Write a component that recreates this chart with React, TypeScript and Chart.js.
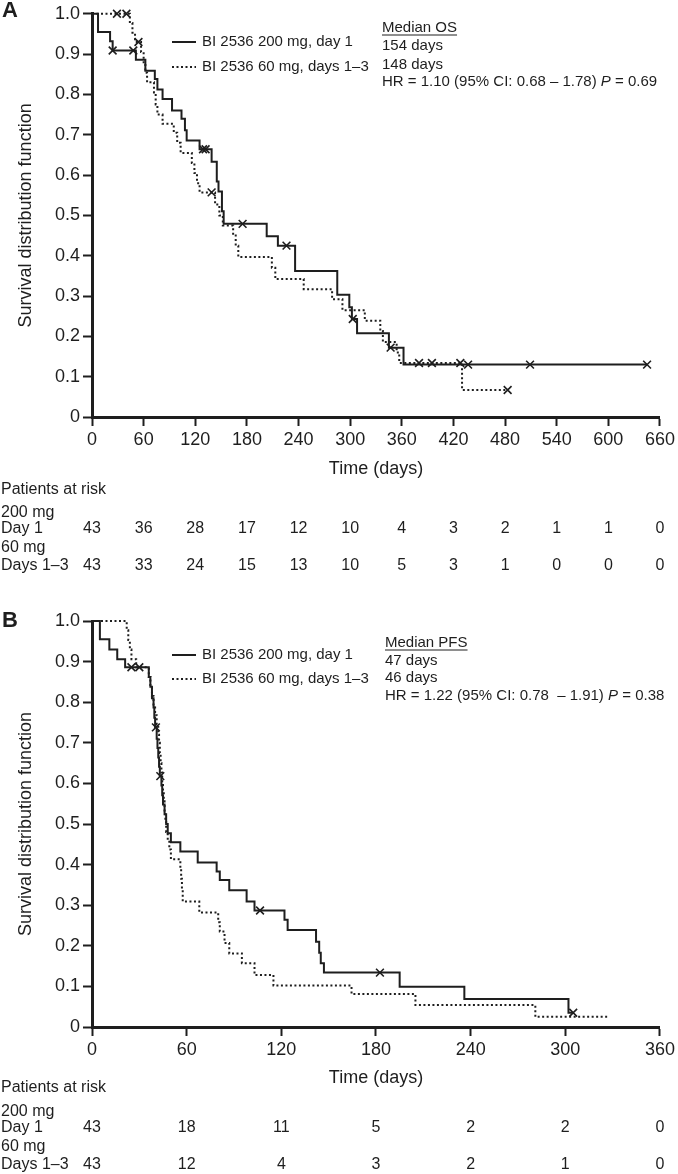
import React, { useEffect, useRef } from "react";
import { Chart, registerables } from "chart.js";

Chart.register(...registerables);

const INK = "#1e1e1e";
const FF = '"Liberation Sans", Arial, Helvetica, sans-serif';

// ---------- Panel A: overall survival ----------
const osTicks = [0, 60, 120, 180, 240, 300, 360, 420, 480, 540, 600, 660];
const yTicks = [0, 0.1, 0.2, 0.3, 0.4, 0.5, 0.6, 0.7, 0.8, 0.9, 1.0];
const osRisk200 = [43, 36, 28, 17, 12, 10, 4, 3, 2, 1, 1, 0];
const osRisk60 = [43, 33, 24, 15, 13, 10, 5, 3, 1, 0, 0, 0];

const os200Days = [0, 7, 21, 24, 51, 62, 73, 76, 82, 93, 104, 108, 110, 125, 139, 145, 147, 151, 153, 203, 216, 236, 285, 299, 302, 308, 345, 362, 645];
const os200Surv = [1.0, 0.955, 0.932, 0.909, 0.886, 0.859, 0.838, 0.812, 0.789, 0.76, 0.74, 0.711, 0.686, 0.664, 0.633, 0.584, 0.559, 0.51, 0.479, 0.448, 0.425, 0.362, 0.303, 0.272, 0.243, 0.208, 0.172, 0.13, 0.13];
const os200CensorDays = [24, 48, 129, 132, 175, 226, 303, 347, 437, 509, 645];
const os200CensorSurv = [0.909, 0.909, 0.664, 0.664, 0.479, 0.425, 0.243, 0.172, 0.13, 0.13, 0.13];

const os60Days = [0, 44, 47, 50, 57, 60, 62, 64, 72, 74, 76, 82, 95, 99, 103, 116, 119, 122, 125, 143, 148, 152, 164, 167, 170, 209, 213, 246, 279, 291, 317, 335, 338, 354, 357, 430, 483];
const os60Surv = [1.0, 0.977, 0.953, 0.93, 0.905, 0.88, 0.854, 0.83, 0.805, 0.775, 0.75, 0.727, 0.705, 0.68, 0.655, 0.63, 0.605, 0.58, 0.557, 0.527, 0.5, 0.475, 0.45, 0.425, 0.397, 0.37, 0.342, 0.317, 0.292, 0.265, 0.239, 0.213, 0.186, 0.16, 0.134, 0.067, 0.067];
const os60CensorDays = [29, 40, 54, 139, 380, 395, 428, 483];
const os60CensorSurv = [1.0, 1.0, 0.93, 0.557, 0.134, 0.134, 0.134, 0.067];

// ---------- Panel B: progression-free survival ----------
const pfsTicks = [0, 60, 120, 180, 240, 300, 360];
const pfsRisk200 = [43, 18, 11, 5, 2, 2, 0];
const pfsRisk60 = [43, 12, 4, 3, 2, 1, 0];

const pfs200Days = [0, 5, 11, 16, 21, 36, 37, 38, 39, 39.5, 40, 41, 41.5, 42, 42.5, 43, 44, 44.5, 45, 46, 47, 48, 50, 56, 67, 79, 81, 87, 98, 103, 122, 124, 142, 144, 145, 147, 195, 236, 302, 305];
const pfs200Surv = [1.0, 0.955, 0.93, 0.906, 0.886, 0.862, 0.838, 0.81, 0.787, 0.762, 0.738, 0.71, 0.687, 0.664, 0.641, 0.618, 0.595, 0.571, 0.548, 0.524, 0.5, 0.477, 0.455, 0.432, 0.405, 0.383, 0.362, 0.337, 0.309, 0.287, 0.264, 0.239, 0.21, 0.183, 0.157, 0.134, 0.099, 0.069, 0.035, 0.035];
const pfs200CensorDays = [25, 30, 40.5, 43.3, 106.5, 182.5, 305];
const pfs200CensorSurv = [0.886, 0.886, 0.738, 0.618, 0.287, 0.134, 0.035];

const pfs60Days = [0, 22, 23, 24, 25, 28, 36, 37, 38, 39, 40, 41, 42, 42.5, 43, 43.5, 44, 44.5, 45, 45.5, 46, 46.5, 47, 48, 49, 50, 56, 56.5, 57, 57.5, 68, 80, 81, 84, 87, 95, 103, 115, 164.5, 205, 281, 327];
const pfs60Surv = [1.0, 0.977, 0.953, 0.93, 0.906, 0.886, 0.862, 0.838, 0.815, 0.79, 0.768, 0.745, 0.72, 0.7, 0.675, 0.65, 0.627, 0.6, 0.58, 0.556, 0.53, 0.505, 0.48, 0.46, 0.437, 0.413, 0.39, 0.365, 0.34, 0.309, 0.282, 0.258, 0.235, 0.207, 0.181, 0.157, 0.128, 0.102, 0.081, 0.054, 0.025, 0.025];
const pfs60CensorDays: number[] = [];
const pfs60CensorSurv: number[] = [];

// ---------- texts ----------
const legendLabels = ["BI 2536 200 mg, day 1", "BI 2536 60 mg, days 1\u20133"];
const riskLabels = ["Patients at risk", "200 mg", "Day 1", "60 mg", "Days 1\u20133"];

type Panel = {
  letter: string;
  ticks: number[];
  risk200: number[];
  risk60: number[];
  d200: number[]; s200: number[]; c200d: number[]; c200s: number[];
  d60: number[]; s60: number[]; c60d: number[]; c60s: number[];
  medTitle: string; med200: string; med60: string; hr: string; p: string;
  // layout
  top: number; xAxisH: number; xTitlePad: number;
  letterY: number; legendY: number[]; medX: number; medY: number[]; riskY: number[];
};

const panels: Panel[] = [
  {
    letter: "A", ticks: osTicks, risk200: osRisk200, risk60: osRisk60,
    d200: os200Days, s200: os200Surv, c200d: os200CensorDays, c200s: os200CensorSurv,
    d60: os60Days, s60: os60Surv, c60d: os60CensorDays, c60s: os60CensorSurv,
    medTitle: "Median OS", med200: "154 days", med60: "148 days",
    hr: "HR = 1.10 (95% CI: 0.68 \u2013 1.78) ", p: "0.69",
    top: 11, xAxisH: 170, xTitlePad: 107,
    letterY: 11, legendY: [42, 67], medX: 382, medY: [28, 46, 65, 82], riskY: [490, 513, 529, 548, 566],
  },
  {
    letter: "B", ticks: pfsTicks, risk200: pfsRisk200, risk60: pfsRisk60,
    d200: pfs200Days, s200: pfs200Surv, c200d: pfs200CensorDays, c200s: pfs200CensorSurv,
    d60: pfs60Days, s60: pfs60Surv, c60d: pfs60CensorDays, c60s: pfs60CensorSurv,
    medTitle: "Median PFS", med200: "47 days", med60: "46 days",
    hr: "HR = 1.22 (95% CI: 0.78  \u2013 1.91) ", p: "0.38",
    top: 34, xAxisH: 147, xTitlePad: 85,
    letterY: 34, legendY: [68, 92], medX: 385, medY: [56, 74, 91, 109], riskY: [501, 525, 541, 560, 578],
  },
];

const pts = (d: number[], s: number[]) => d.map((x, i) => ({ x, y: s[i] }));

function annotPlugin(p: Panel) {
  return {
    id: "annot" + p.letter,
    afterDraw(chart: any) {
      const ctx = chart.ctx as CanvasRenderingContext2D;
      const xs = chart.scales.x;
      ctx.save();
      ctx.fillStyle = INK;
      ctx.strokeStyle = INK;
      ctx.textBaseline = "middle";
      ctx.textAlign = "left";
      // panel letter
      ctx.font = `bold 22px ${FF}`;
      ctx.fillText(p.letter, 2, p.letterY);
      // legend
      ctx.font = `15px ${FF}`;
      legendLabels.forEach((t, i) => {
        const y = p.legendY[i];
        ctx.lineWidth = 2;
        ctx.setLineDash(i === 0 ? [] : [2, 2.5]);
        ctx.beginPath();
        ctx.moveTo(172, y);
        ctx.lineTo(196, y);
        ctx.stroke();
        ctx.setLineDash([]);
        ctx.fillText(t, 202, y);
      });
      // median block
      const mx = p.medX;
      ctx.fillText(p.medTitle, mx, p.medY[0]);
      const w = ctx.measureText(p.medTitle).width;
      ctx.lineWidth = 1;
      ctx.beginPath();
      ctx.moveTo(mx, p.medY[0] + 7);
      ctx.lineTo(mx + w, p.medY[0] + 7);
      ctx.stroke();
      ctx.fillText(p.med200, mx, p.medY[1]);
      ctx.fillText(p.med60, mx, p.medY[2]);
      let hx = mx;
      ctx.fillText(p.hr, hx, p.medY[3]);
      hx += ctx.measureText(p.hr).width;
      ctx.font = `italic 15px ${FF}`;
      ctx.fillText("P", hx, p.medY[3]);
      hx += ctx.measureText("P").width;
      ctx.font = `15px ${FF}`;
      ctx.fillText(" = " + p.p, hx, p.medY[3]);
      // patients at risk table
      ctx.font = `16px ${FF}`;
      riskLabels.forEach((t, i) => ctx.fillText(t, 1, p.riskY[i]));
      ctx.textAlign = "center";
      p.ticks.forEach((t, i) => {
        const x = xs.getPixelForValue(t);
        ctx.fillText(String(p.risk200[i]), x, p.riskY[2]);
        ctx.fillText(String(p.risk60[i]), x, p.riskY[4]);
      });
      ctx.restore();
    },
  };
}

function KMChart({ p }: { p: Panel }) {
  const ref = useRef<HTMLCanvasElement>(null);
  useEffect(() => {
    if (!ref.current) return;
    const lineBase = { pointRadius: 0, fill: false, clip: false as any, borderColor: INK, borderWidth: 2, stepped: "before" as const, borderCapStyle: "butt" as const };
    const censorBase = { showLine: false, pointStyle: "crossRot" as const, pointRadius: 5.5, pointBorderWidth: 1.6, pointBorderColor: INK, borderColor: INK, clip: false as any };
    const chart = new Chart(ref.current, {
      type: "line",
      data: {
        datasets: [
          { ...lineBase, label: legendLabels[0], data: pts(p.d200, p.s200) },
          { ...lineBase, label: legendLabels[1], data: pts(p.d60, p.s60), borderDash: [2, 2.5] },
          { ...censorBase, label: "censored 200 mg", data: pts(p.c200d, p.c200s) },
          { ...censorBase, label: "censored 60 mg", data: pts(p.c60d, p.c60s) },
        ] as any,
      },
      options: {
        animation: false,
        responsive: false,
        events: [],
        layout: { padding: { top: p.top, right: 18, bottom: 0, left: 0 } },
        plugins: { legend: { display: false }, tooltip: { enabled: false }, title: { display: false } },
        scales: {
          x: {
            type: "linear",
            min: 0,
            max: p.ticks[p.ticks.length - 1],
            afterBuildTicks: (s: any) => { s.ticks = p.ticks.map((v) => ({ value: v })); },
            afterFit: (s: any) => { s.height = p.xAxisH; },
            ticks: { autoSkip: false, maxRotation: 0, padding: 3, color: INK, font: { family: FF, size: 18 } },
            grid: { drawOnChartArea: false, drawTicks: true, tickLength: 9, tickWidth: 2, tickColor: INK },
            border: { display: true, color: INK, width: 3 },
            title: { display: true, text: "Time (days)", color: INK, font: { family: FF, size: 18 }, padding: { top: 0, bottom: p.xTitlePad } },
          },
          y: {
            type: "linear",
            min: 0,
            max: 1,
            afterBuildTicks: (s: any) => { s.ticks = yTicks.map((v) => ({ value: v })); },
            afterFit: (s: any) => { s.width = 92; },
            ticks: {
              padding: 3, color: INK, font: { family: FF, size: 18 },
              callback: (v: any) => (Number(v) === 0 ? "0" : Number(v).toFixed(1)),
            },
            grid: { drawOnChartArea: false, drawTicks: true, tickLength: 9, tickWidth: 2, tickColor: INK },
            border: { display: true, color: INK, width: 3 },
            title: { display: true, text: "Survival distribution function", color: INK, font: { family: FF, size: 18 }, padding: { top: 15, bottom: 0 } },
          },
        },
      } as any,
      plugins: [annotPlugin(p)],
    });
    return () => chart.destroy();
  }, [p]);
  return <canvas ref={ref} width={678} height={587} style={{ display: "block", width: 678, height: 587 }} />;
}

export default function App() {
  return (
    <div style={{ position: "absolute", left: 0, top: 0, width: 678, height: 1174, background: "#fff" }}>
      {panels.map((p) => (
        <KMChart key={p.letter} p={p} />
      ))}
    </div>
  );
}
